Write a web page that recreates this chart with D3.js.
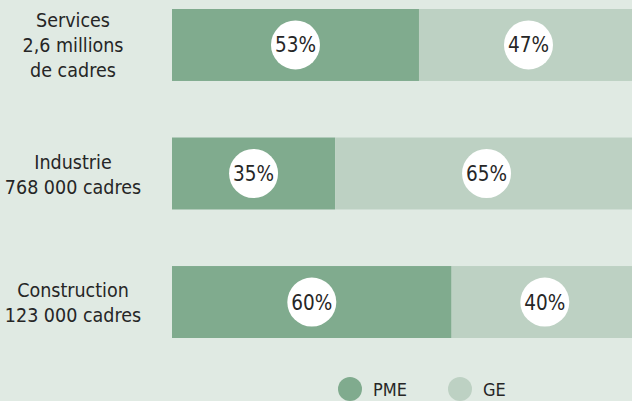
<!DOCTYPE html>
<html><head><meta charset="utf-8">
<script src="https://cdn.jsdelivr.net/npm/d3@7"></script>
<style>
html,body{margin:0;padding:0;background:#e0eae3;}
svg{display:block;}
text{font-family:"DejaVu Sans Condensed","Liberation Sans",sans-serif;fill:#262626;}
</style></head>
<body>
<svg id="chart" width="632" height="401"></svg>
<script>
const categories = ["Services", "Industrie", "Construction"];
const categoryLabels = [["Services", "2,6 millions", "de cadres"], ["Industrie", "768 000 cadres"], ["Construction", "123 000 cadres"]];
const seriesNames = ["PME", "GE"];
const pme = [53, 35, 60];
const ge = [47, 65, 40];
const colors = ["#80ab8e", "#bdd1c3"];

const W = 632, H = 401;
const svg = d3.select("#chart");
svg.append("rect").attr("width", W).attr("height", H).attr("fill", "#e0eae3");

const x = d3.scaleLinear().domain([0, 100]).range([172, 638]);
const y = d3.scaleBand().domain(categories).range([9, 338]).paddingInner(0.44).paddingOuter(0);

const rows = categories.map((c, i) => ({cat: c, vals: [pme[i], ge[i]], lines: categoryLabels[i]}));

const g = svg.append("g");
rows.forEach(r => {
  let acc = 0;
  r.vals.forEach((v, j) => {
    const x0 = x(acc), x1 = x(acc + v);
    g.append("rect").attr("x", x0).attr("y", y(r.cat)).attr("width", x1 - x0).attr("height", y.bandwidth()).attr("fill", colors[j]);
    acc += v;
  });
});
rows.forEach(r => {
  let acc = 0;
  r.vals.forEach((v, j) => {
    const cx = x(acc + v / 2), cy = y(r.cat) + y.bandwidth() / 2;
    g.append("circle").attr("cx", cx).attr("cy", cy).attr("r", 24.5).attr("fill", "#ffffff");
    g.append("text").attr("x", cx).attr("y", cy + 7.5).attr("text-anchor", "middle").attr("font-size", 20.5).text(v + "%");
    acc += v;
  });
});

// category labels
rows.forEach(r => {
  const cy = y(r.cat) + y.bandwidth() / 2;
  const n = r.lines.length, lh = 25;
  const start = cy + 7.5 - (n - 1) * lh / 2;
  const t = svg.append("text").attr("text-anchor", "middle").attr("font-size", 19.5);
  r.lines.forEach((l, k) => t.append("tspan").attr("x", 73).attr("y", start + k * lh).text(l));
});

// legend
const legX = [350, 460];
seriesNames.forEach((s, i) => {
  svg.append("circle").attr("cx", legX[i]).attr("cy", 389).attr("r", 12).attr("fill", colors[i]);
  svg.append("text").attr("x", legX[i] + 23).attr("y", 396).attr("font-size", 18).text(s);
});
</script>
</body></html>
